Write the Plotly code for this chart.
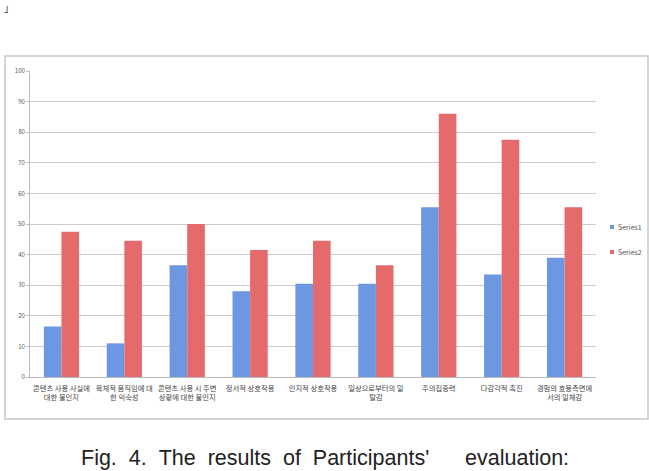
import plotly.graph_objects as go

categories = [
    "콘텐츠 사용 사실에<br>대한 불인지",
    "육체적 움직임에 대<br>한 익숙성",
    "콘텐츠 사용 시 주변<br>상황에 대한 불인지",
    "정서적 상호작용",
    "인지적 상호작용",
    "일상으로부터의 일<br>탈감",
    "주의집중력",
    "다감각적 촉진",
    "경험의 효용측면에<br>서의 일체감",
]
series1 = [16.5, 11, 36.5, 28, 30.5, 30.5, 55.5, 33.5, 39]
series2 = [47.5, 44.5, 50, 41.5, 44.5, 36.5, 86, 77.5, 55.5]
series_names = ["Series1", "Series2"]
series_colors = ["#6b98e0", "#e56a6c"]
y_ticks = [0, 10, 20, 30, 40, 50, 60, 70, 80, 90, 100]

W, H = 649, 471
L, R, T, B = 30, 53, 71, 94
pw, ph = W - L - R, H - T - B

def px_x(x):
    return (x - L) / pw

def px_y(y):
    return (H - B - y) / ph

fig = go.Figure()
for name, vals, col in zip(series_names, [series1, series2], series_colors):
    fig.add_trace(go.Bar(
        x=categories, y=vals, name=name,
        marker=dict(color=col, line=dict(width=0)),
    ))

fig.update_layout(
    width=W, height=H,
    margin=dict(l=L, r=R, t=T, b=B, autoexpand=False),
    paper_bgcolor="white", plot_bgcolor="white",
    barmode="group", bargap=0.44, bargroupgap=0,
    font=dict(family="Noto Sans CJK KR", size=7, color="#444"),
    showlegend=False,
    xaxis=dict(showgrid=False, showline=True, linecolor="#bbbbbb",
               ticks="", ticklabelstandoff=4,
               tickfont=dict(size=7.3, color="#444")),
    yaxis=dict(range=[0, 100], tickvals=y_ticks, showgrid=True,
               gridcolor="#cccccc", gridwidth=1, showline=True,
               linecolor="#bbbbbb", ticks="outside", ticklen=3,
               tickcolor="#bbbbbb", tickfont=dict(size=6, color="#555"),
               zeroline=False),
)

# legend drawn manually (small square + label), like the original
for i, (name, col) in enumerate(zip(series_names, series_colors)):
    yc = 227 + 25 * i
    fig.add_shape(type="rect", xref="paper", yref="paper",
                  x0=px_x(610), x1=px_x(614), y0=px_y(yc + 2), y1=px_y(yc - 2),
                  line=dict(width=0), fillcolor=col)
    fig.add_annotation(text=name, xref="paper", yref="paper",
                       x=px_x(616), y=px_y(yc), xanchor="left", yanchor="middle",
                       showarrow=False, font=dict(size=7, color="#555"))

# outer chart border
fig.add_shape(type="rect", xref="paper", yref="paper",
              x0=px_x(5), x1=px_x(648), y0=px_y(419), y1=px_y(56),
              line=dict(color="#c8c8c8", width=1.5), fillcolor="rgba(0,0,0,0)",
              layer="below")

sp = "&nbsp;&nbsp;"
caption = sp.join(["Fig.", "4.", "The", "results", "of", "Participants'"]) + sp * 3 + "evaluation:"
fig.add_annotation(
    text=caption,
    xref="paper", yref="paper", x=px_x(325), y=px_y(458),
    xanchor="center", yanchor="middle", showarrow=False,
    font=dict(family="Liberation Sans, Arial", size=21.5, color="#222"),
)
fig.add_annotation(
    text="」", xref="paper", yref="paper", x=px_x(2), y=px_y(7),
    xanchor="left", yanchor="middle", showarrow=False,
    font=dict(family="Noto Sans CJK KR", size=10, color="#333"),
)

fig.write_html("out.html")
